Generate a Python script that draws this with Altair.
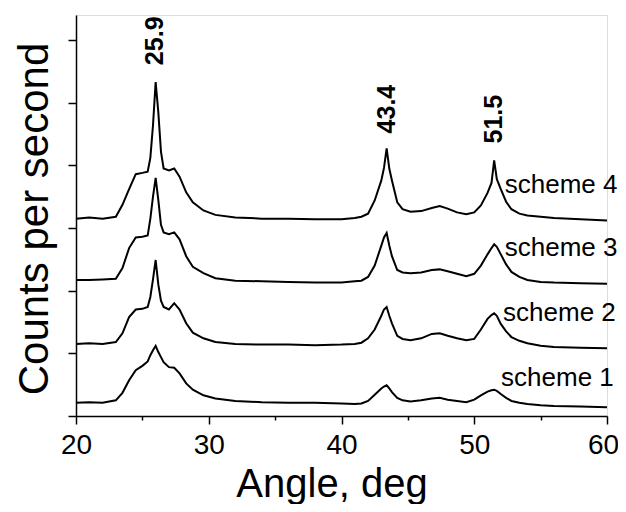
import altair as alt
import pandas as pd

angle = [20, 21, 22, 23, 23.5, 24, 24.5, 25, 25.4, 25.6, 25.8, 26.0, 26.2, 26.4, 26.6, 27, 27.4, 27.8,
         28.3, 28.8, 29.6, 30.5, 32, 34, 36, 38, 40, 41, 41.5, 42, 42.5, 43, 43.2, 43.4, 43.6, 43.8,
         44.2, 44.6, 45.2, 46, 46.8, 47.4, 48, 48.7, 49.4, 50, 50.5, 51, 51.3, 51.5, 51.7, 52, 52.4,
         52.8, 53.4, 54, 55, 56, 58, 60]

scheme4 = [3.15, 3.17, 3.15, 3.18, 3.37, 3.62, 3.86, 3.88, 3.90, 4.12, 4.64, 5.33, 4.85, 4.22, 3.95, 3.92, 3.95, 3.82,
           3.57, 3.41, 3.28, 3.21, 3.17, 3.15, 3.15, 3.14, 3.14, 3.16, 3.18, 3.23, 3.44, 3.76, 3.96, 4.27, 3.95, 3.76,
           3.41, 3.30, 3.26, 3.27, 3.32, 3.35, 3.31, 3.25, 3.22, 3.25, 3.36, 3.56, 3.72, 4.08, 3.78, 3.62, 3.42,
           3.30, 3.23, 3.20, 3.18, 3.16, 3.14, 3.12]

scheme3 = [2.17, 2.17, 2.18, 2.19, 2.36, 2.68, 2.85, 2.86, 2.88, 3.15, 3.50, 3.80, 3.45, 3.05, 2.93, 2.90, 2.93, 2.82,
           2.55, 2.38, 2.28, 2.20, 2.16, 2.15, 2.14, 2.13, 2.13, 2.15, 2.16, 2.22, 2.40, 2.72, 2.85, 2.92, 2.72, 2.55,
           2.33, 2.29, 2.28, 2.29, 2.33, 2.34, 2.31, 2.27, 2.23, 2.27, 2.40, 2.58, 2.68, 2.74, 2.70, 2.58, 2.42,
           2.30, 2.22, 2.17, 2.14, 2.13, 2.12, 2.11]

scheme2 = [1.15, 1.16, 1.15, 1.18, 1.32, 1.58, 1.70, 1.71, 1.74, 1.90, 2.18, 2.49, 2.10, 1.84, 1.74, 1.70, 1.80, 1.70,
           1.48, 1.33, 1.24, 1.18, 1.15, 1.14, 1.14, 1.13, 1.14, 1.15, 1.17, 1.24, 1.38, 1.60, 1.70, 1.74, 1.60, 1.48,
           1.28, 1.23, 1.21, 1.24, 1.31, 1.32, 1.28, 1.24, 1.21, 1.23, 1.38, 1.55, 1.61, 1.64, 1.60, 1.47, 1.35,
           1.26, 1.20, 1.16, 1.12, 1.10, 1.09, 1.08]

scheme1 = [0.21, 0.22, 0.21, 0.25, 0.37, 0.57, 0.73, 0.80, 0.87, 0.97, 1.05, 1.12, 1.02, 0.94, 0.86, 0.78, 0.77, 0.68,
           0.52, 0.42, 0.33, 0.28, 0.24, 0.22, 0.21, 0.21, 0.20, 0.19, 0.20, 0.24, 0.34, 0.44, 0.47, 0.49, 0.44, 0.38,
           0.29, 0.25, 0.23, 0.25, 0.28, 0.29, 0.26, 0.24, 0.22, 0.26, 0.33, 0.39, 0.41, 0.42, 0.40, 0.35, 0.29,
           0.24, 0.21, 0.19, 0.17, 0.16, 0.15, 0.14]

series_names = ["scheme 1", "scheme 2", "scheme 3", "scheme 4"]
series_values = [scheme1, scheme2, scheme3, scheme4]

label_x = [52.02, 52.17, 52.3, 52.3]
label_y = [0.61, 1.64, 2.68, 3.68]

peak_labels = ["25.9", "43.4", "51.5"]
peak_x = [25.95, 43.42, 51.48]
peak_y = [5.60, 4.51, 4.35]

rows = []
for name, vals in zip(series_names, series_values):
    for a, v in zip(angle, vals):
        rows.append({"angle": a, "counts": v, "series": name})
df = pd.DataFrame(rows)

lab_df = pd.DataFrame({"x": label_x, "y": label_y, "text": series_names})
peak_df = pd.DataFrame({"x": peak_x, "y": peak_y, "text": peak_labels})

FONT = "Liberation Sans"

xscale = alt.Scale(domain=[20, 60], nice=False, zero=False)
yscale = alt.Scale(domain=[0, 6.4], nice=False, zero=False)

xaxis = alt.Axis(
    title="Angle, deg",
    values=[20, 25, 30, 35, 40, 45, 50, 55, 60],
    labelExpr="datum.value % 10 === 0 ? datum.label : ''",
    tickSize={"condition": {"test": "datum.value % 10 === 0", "value": 8}, "value": 4},
    labelOffset={"condition": {"test": "datum.value === 60", "value": -4}, "value": 0},
    grid=False, labelFlush=False, labelOverlap=False,
    domainColor="black", domainWidth=1.5,
    tickColor="black", tickWidth=1.5,
    labelFont=FONT, labelFontSize=28, labelColor="black", labelPadding=7,
    titleFont=FONT, titleFontSize=40, titleFontWeight="normal", titleColor="black",
    titleX=255.5, titleY=80, titleAlign="center", titleBaseline="alphabetic",
)
yaxis = alt.Axis(
    title="Counts per second",
    values=[0, 0.5, 1, 1.5, 2, 2.5, 3, 3.5, 4, 4.5, 5, 5.5, 6],
    labels=False,
    tickSize={"condition": {"test": "datum.value % 1 === 0", "value": 8}, "value": 5},
    grid=False,
    domainColor="black", domainWidth=1.5,
    tickColor="black", tickWidth=1.5,
    titleFont=FONT, titleFontSize=42, titleFontWeight="normal", titleColor="black",
    titleX=-29, titleY=203.5, titleAngle=270, titleAlign="center", titleBaseline="alphabetic",
)

lines = alt.Chart(df).mark_line(color="black", strokeWidth=2).encode(
    x=alt.X("angle:Q", scale=xscale, axis=xaxis),
    y=alt.Y("counts:Q", scale=yscale, axis=yaxis),
    detail="series:N",
)

labels = alt.Chart(lab_df).mark_text(
    align="left", baseline="middle", font=FONT, fontSize=26, color="black"
).encode(x="x:Q", y="y:Q", text="text:N")

peaks = alt.Chart(peak_df).mark_text(
    align="left", baseline="middle", angle=270, font=FONT, fontSize=25,
    fontWeight="bold", color="black"
).encode(x="x:Q", y="y:Q", text="text:N")

chart = alt.layer(lines, labels, peaks).properties(
    width=531, height=401,
    padding={"left": 68, "top": 7, "right": 11, "bottom": 88},
    autosize=alt.AutoSizeParams(type="none"),
).configure_view(stroke=None).configure(background="white")

chart.save("out.html", embed_options={"renderer": "svg", "actions": False})
